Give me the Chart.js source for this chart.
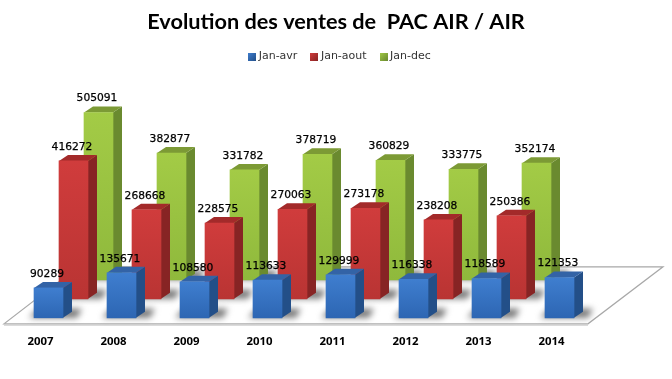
<!DOCTYPE html>
<html>
<head>
<meta charset="utf-8">
<style>
  body { margin: 0; background: #fff; }
  canvas { display: block; }
</style>
<script src="https://cdn.jsdelivr.net/npm/chart.js"></script>
</head>
<body>
<canvas id="ventes" width="672" height="379"></canvas>
<script>
const years = ["2007", "2008", "2009", "2010", "2011", "2012", "2013", "2014"];
const janAvr = [90289, 135671, 108580, 113633, 129999, 116338, 118589, 121353];
// 2014 only has the first period
const janAout = [416272, 268668, 228575, 270063, 273178, 238208, 250386, null];
const janDec = [505091, 382877, 331782, 378719, 360829, 333775, 352174, null];
const seriesNames = ["Jan-avr", "Jan-aout", "Jan-dec"];

// fake 3D: where each row sits on the floor, and the bar extrusion
const rowShift = [[8, -6], [33, -25], [58, -44]];
const depth = [9, -6];
const floorBack = [[74, -57], [75, -57]];

const palette = [
  { light: "#3f7ecf", dark: "#2d66b3", side: "#234f88", top: "#3363a6" },
  { light: "#d03c3c", dark: "#b93433", side: "#872424", top: "#a32a2a" },
  { light: "#a3cb46", dark: "#8fb93c", side: "#6a8a2f", top: "#7c9a35" },
];

function faceColor(i) {
  return (c) => {
    const y = c.chart.scales.y;
    if (!y || !c.parsed || c.parsed.y == null) return palette[i].dark;
    const y0 = y.getPixelForValue(c.parsed.y);
    const y1 = y.getPixelForValue(0);
    if (!isFinite(y0) || !isFinite(y1)) return palette[i].dark;
    const g = c.chart.ctx.createLinearGradient(0, y0, 0, y1);
    g.addColorStop(0, palette[i].light);
    g.addColorStop(1, palette[i].dark);
    return g;
  };
}

function makeSwatch(i) {
  const cv = document.createElement("canvas");
  cv.width = 8;
  cv.height = 8;
  const c = cv.getContext("2d");
  const g = c.createLinearGradient(0, 0, 8, 8);
  g.addColorStop(0, palette[i].light);
  g.addColorStop(1, palette[i].side);
  c.fillStyle = g;
  c.fillRect(0, 0, 8, 8);
  return cv;
}

function poly(ctx, pts) {
  ctx.beginPath();
  pts.forEach((p, i) => (i ? ctx.lineTo(p[0], p[1]) : ctx.moveTo(p[0], p[1])));
  ctx.closePath();
}

const floorPlugin = {
  id: "floor",
  afterLayout(chart) {
    // legend sits a little right of centre in the original
    chart.legend.left += 5;
    chart.legend.right += 5;
  },
  beforeDatasetsDraw(chart) {
    const { ctx, chartArea: a } = chart;
    ctx.save();
    poly(ctx, [
      [a.left, a.bottom],
      [a.right, a.bottom],
      [a.right + floorBack[1][0], a.bottom + floorBack[1][1]],
      [a.left + floorBack[0][0], a.bottom + floorBack[0][1]],
    ]);
    ctx.fillStyle = "#fff";
    ctx.fill();
    ctx.strokeStyle = "#a8a8a8";
    ctx.lineWidth = 1.2;
    ctx.stroke();
    ctx.strokeStyle = "#cfcfcf";
    ctx.lineWidth = 2;
    ctx.beginPath();
    ctx.moveTo(a.left, a.bottom + 1);
    ctx.lineTo(a.right, a.bottom + 1);
    ctx.stroke();
    ctx.restore();
  },
};

const bars3d = {
  id: "bars3d",
  beforeDatasetDraw(chart, args) {
    const { ctx } = chart;
    const i = args.index;
    ctx.save();
    ctx.translate(rowShift[i][0], rowShift[i][1]);
    args.meta.data.forEach((bar, j) => {
      if (chart.data.datasets[i].data[j] == null) return;
      const l = bar.x - bar.width / 2;
      const r = bar.x + bar.width / 2;
      const dx = depth[0];
      const dy = depth[1];
      // shadow on the floor
      ctx.save();
      ctx.filter = "blur(3px)";
      ctx.fillStyle = "#777";
      poly(ctx, [[l - 5, bar.base], [r + 14, bar.base], [r + 19, bar.base - 9], [l + 4, bar.base - 9]]);
      ctx.fill();
      ctx.restore();
      ctx.fillStyle = palette[i].side;
      poly(ctx, [[r, bar.y], [r + dx, bar.y + dy], [r + dx, bar.base + dy], [r, bar.base]]);
      ctx.fill();
      ctx.fillStyle = palette[i].top;
      poly(ctx, [[l, bar.y], [r, bar.y], [r + dx, bar.y + dy], [l + dx, bar.y + dy]]);
      ctx.fill();
    });
  },
  afterDatasetDraw(chart) {
    chart.ctx.restore();
  },
  afterDatasetsDraw(chart) {
    const { ctx } = chart;
    ctx.save();
    ctx.font = "10.7px 'DejaVu Sans'";
    ctx.fillStyle = "#000";
    ctx.strokeStyle = "#000";
    ctx.lineWidth = 0.25;
    ctx.textAlign = "center";
    ctx.textBaseline = "middle";
    [2, 1, 0].forEach((i) => {
      chart.getDatasetMeta(i).data.forEach((bar, j) => {
        const v = chart.data.datasets[i].data[j];
        if (v == null) return;
        const x = bar.x + rowShift[i][0] - 1.5;
        const y = bar.y + rowShift[i][1] - 14;
        ctx.fillText(String(v), x, y);
        ctx.strokeText(String(v), x, y);
      });
    });
    ctx.restore();
  },
};

new Chart(document.getElementById("ventes"), {
  type: "bar",
  data: {
    labels: years,
    datasets: [
      { label: seriesNames[0], data: janAvr, backgroundColor: faceColor(0) },
      { label: seriesNames[1], data: janAout, backgroundColor: faceColor(1) },
      { label: seriesNames[2], data: janDec, backgroundColor: faceColor(2) },
    ],
  },
  options: {
    responsive: false,
    animation: false,
    layout: { padding: { left: 4, right: 4, top: 0, bottom: 27.5 } },
    datasets: { bar: { grouped: false, barThickness: 29, borderWidth: 0, clip: false } },
    scales: {
      x: {
        grid: { display: false },
        border: { display: false },
        ticks: {
          color: "#000",
          padding: 3,
          maxRotation: 0,
          font: { family: "'Open Sans'", size: 11.4, weight: "bold" },
        },
      },
      y: {
        position: "right",
        min: 0,
        max: 760000,
        grid: { display: false },
        border: { display: false },
        ticks: { display: false },
        afterFit(scale) {
          scale.width = 80;
        },
      },
    },
    plugins: {
      tooltip: { enabled: false },
      title: {
        display: true,
        text: "Evolution des ventes de  PAC AIR / AIR",
        color: "#000",
        font: { family: "Lato", size: 21.7, weight: "bold" },
        padding: { top: 9, bottom: 0 },
      },
      legend: {
        position: "top",
        labels: {
          usePointStyle: true,
          boxWidth: 2,
          boxHeight: 8,
          padding: 16,
          color: "#333",
          font: { family: "'DejaVu Sans'", size: 11 },
          generateLabels(chart) {
            return Chart.defaults.plugins.legend.labels.generateLabels(chart).map((item, i) => {
              item.pointStyle = makeSwatch(i);
              return item;
            });
          },
        },
      },
    },
  },
  plugins: [floorPlugin, bars3d],
});
</script>
</body>
</html>
